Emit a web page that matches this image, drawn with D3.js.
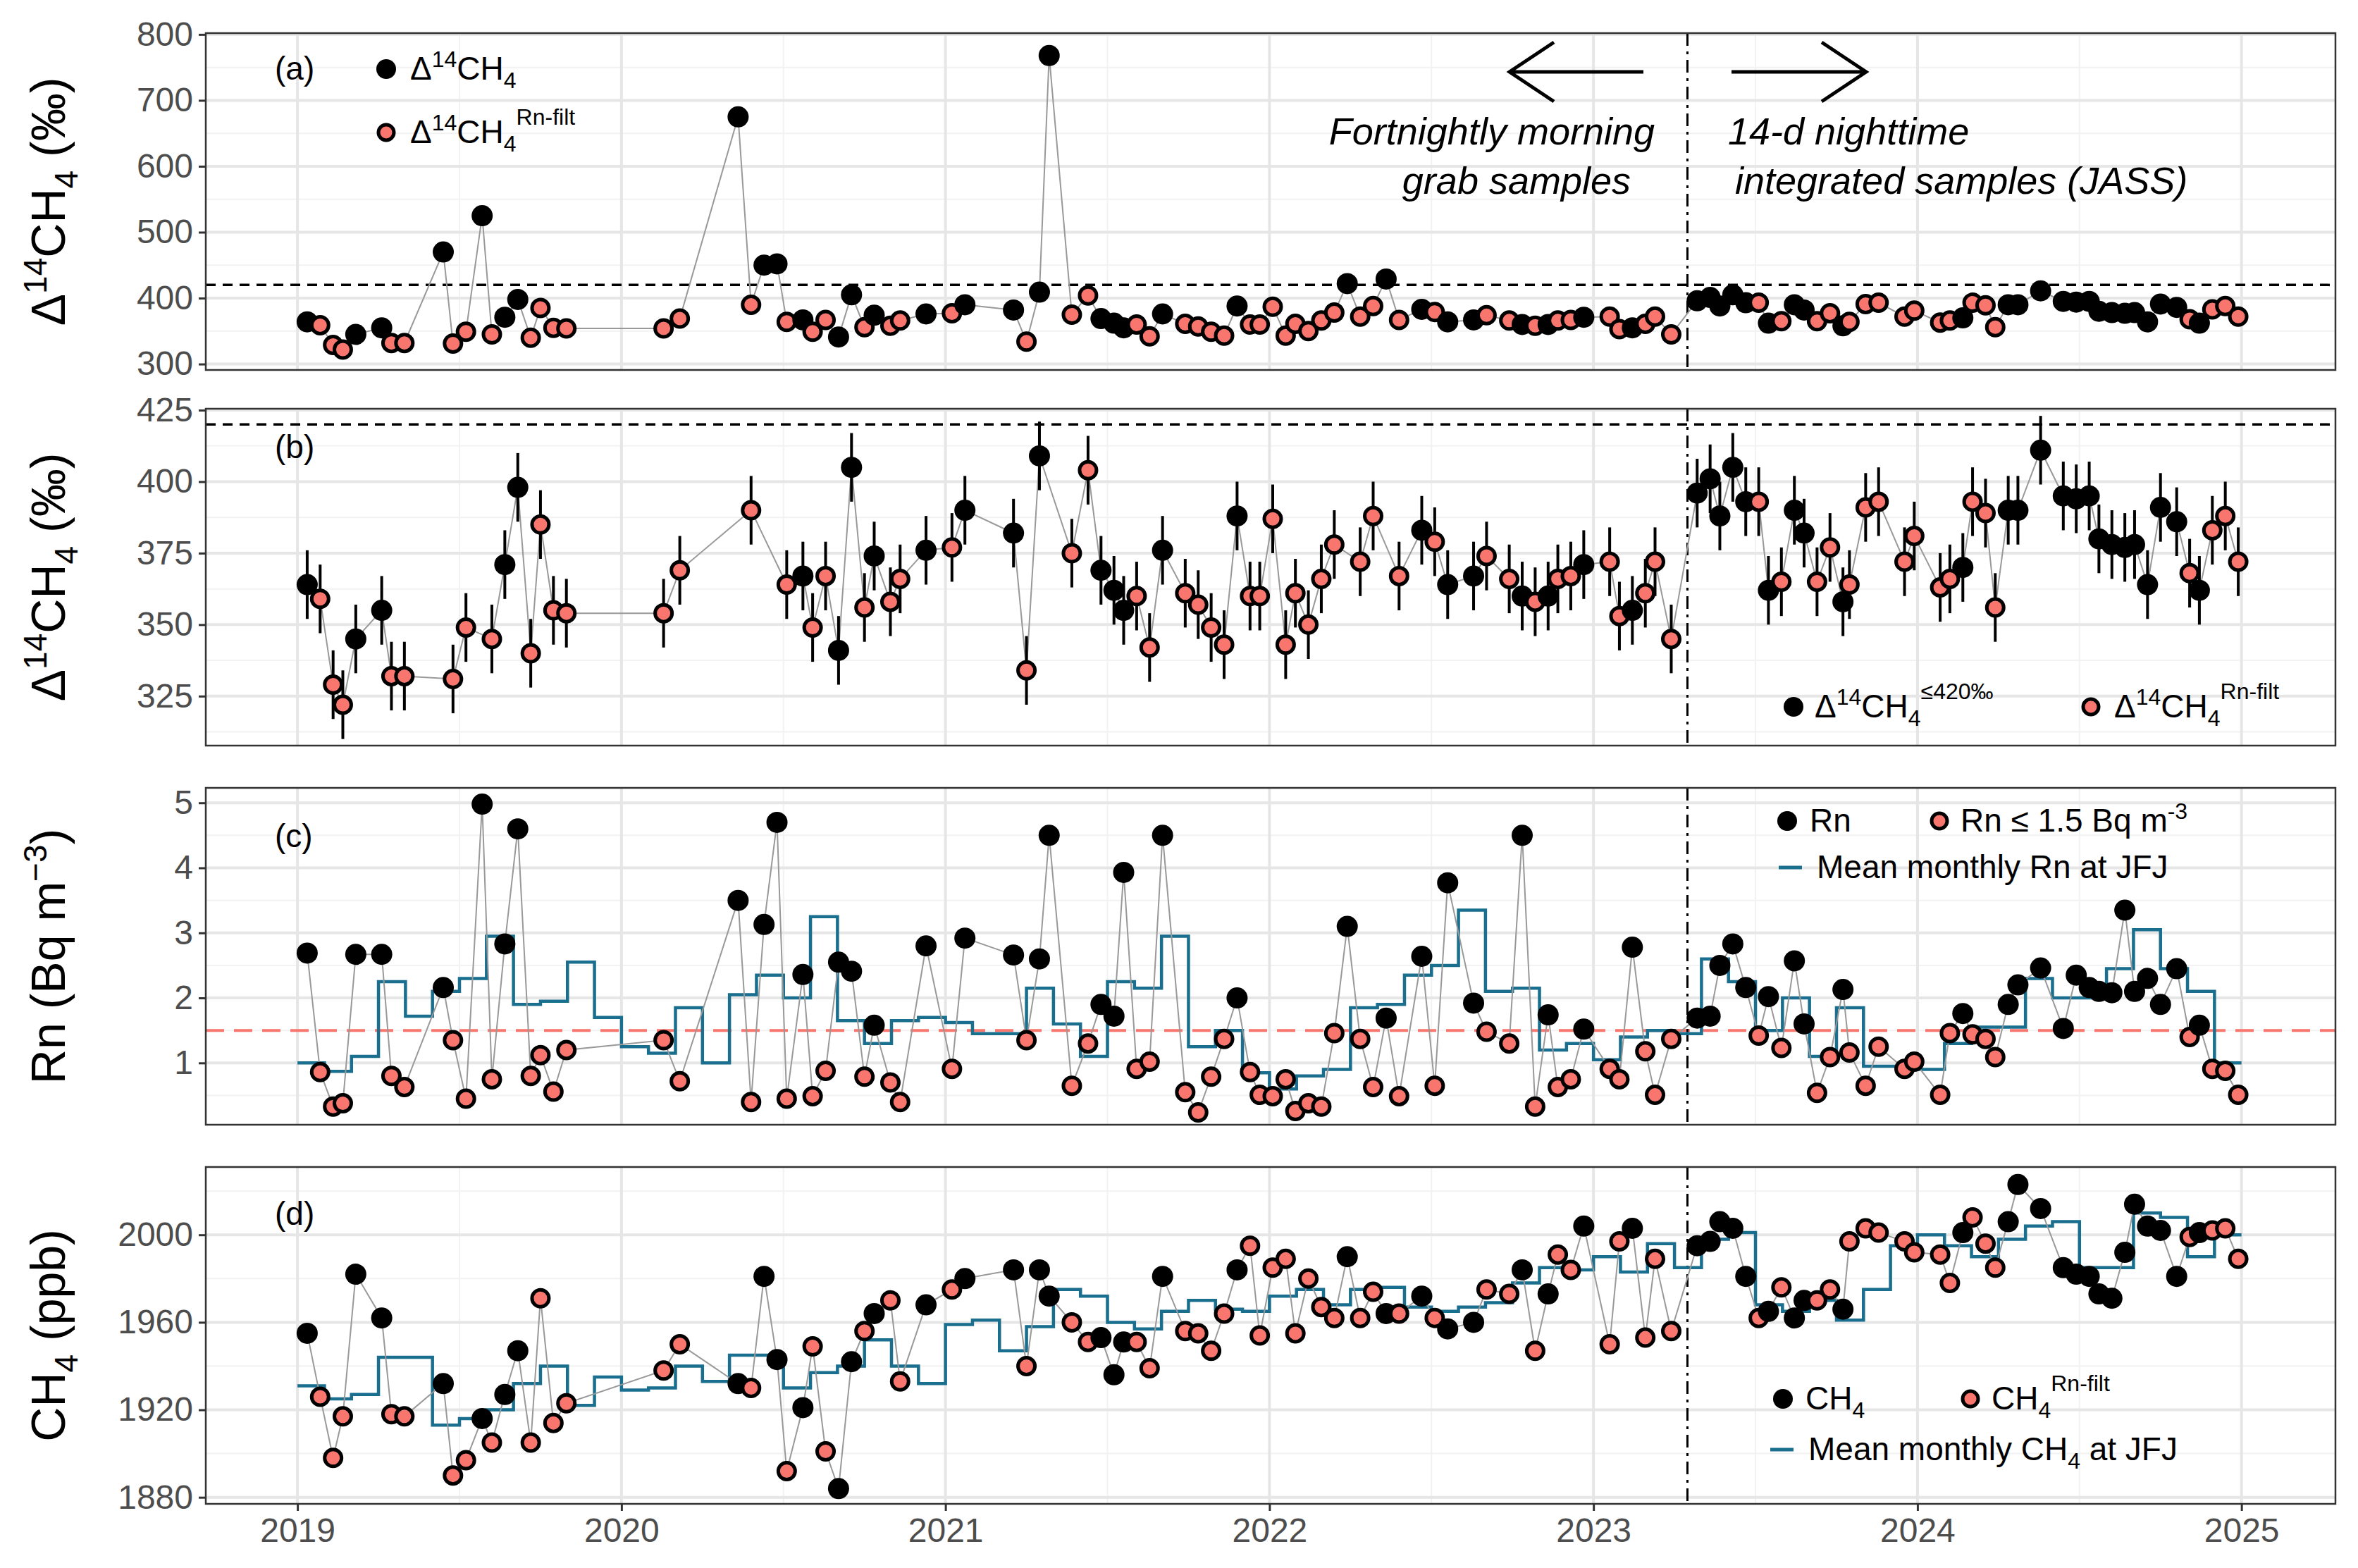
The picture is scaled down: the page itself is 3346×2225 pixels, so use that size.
<!DOCTYPE html>
<html><head><meta charset="utf-8">
<script src="https://cdn.jsdelivr.net/npm/d3@7"></script>
<style>body{margin:0;background:#fff}text{font-family:"Liberation Sans",Arial,sans-serif}</style>
</head><body>
<script>
// sample dates (decimal year)
var sampleDates = [
 2019.03,2019.07,2019.11,2019.14,2019.18,2019.26,2019.29,2019.33,2019.45,2019.48,
 2019.52,2019.57,2019.60,2019.64,2019.68,2019.72,2019.75,2019.79,2019.83,2020.13,
 2020.18,2020.36,2020.40,2020.44,2020.48,2020.51,2020.56,2020.59,2020.63,2020.67,
 2020.71,2020.75,2020.78,2020.83,2020.86,2020.94,2021.02,2021.06,2021.21,2021.25,
 2021.29,2021.32,2021.39,2021.44,2021.48,2021.52,2021.55,2021.59,2021.63,2021.67,
 2021.74,2021.78,2021.82,2021.86,2021.90,2021.94,2021.97,2022.01,2022.05,2022.08,
 2022.12,2022.16,2022.20,2022.24,2022.28,2022.32,2022.36,2022.40,2022.47,2022.51,
 2022.55,2022.63,2022.67,2022.74,2022.78,2022.82,2022.86,2022.89,2022.93,2022.97,
 2023.05,2023.08,2023.12,2023.16,2023.19,2023.24,2023.32,2023.36,2023.39,2023.43,
 2023.47,2023.51,2023.54,2023.58,2023.62,2023.65,2023.69,2023.73,2023.77,2023.79,
 2023.84,2023.88,2023.96,2023.99,2024.07,2024.10,2024.14,2024.17,2024.21,2024.24,
 2024.28,2024.31,2024.38,2024.45,2024.49,2024.53,2024.56,2024.60,2024.64,2024.67,
 2024.71,2024.75,2024.80,2024.84,2024.87,2024.91,2024.95,2024.99];
// Δ14CH4 (‰)
var d14c = [
 364,359,329,322,345,355,332,332,470,331,
 349,525,345,371,398,340,385,355,354,354,
 369,675,390,450,452,364,367,349,367,341,
 405,356,374,358,366,376,377,390,382,334,
 409,768,375,404,369,362,355,360,342,376,
 361,357,349,343,388,360,360,387,343,361,
 350,366,378,422,372,388,429,367,383,379,
 364,367,374,366,360,358,360,366,367,371,
 372,353,355,361,372,345,396,401,388,405,
 393,393,362,365,390,382,365,377,358,364,
 391,393,372,381,363,366,370,393,389,356,
 390,390,411,395,394,395,380,378,377,378,
 364,391,386,368,362,383,388,372];
var d14cErr = 12;
// Rn (Bq m-3)
var rn = [
 2.69,0.86,0.33,0.38,2.67,2.67,0.80,0.63,2.16,1.35,
 0.45,4.98,0.75,2.83,4.60,0.80,1.12,0.56,1.20,1.35,
 0.72,3.50,0.40,3.13,4.70,0.45,2.36,0.49,0.88,2.55,
 2.41,0.79,1.58,0.70,0.40,2.80,0.91,2.92,2.66,1.35,
 2.60,4.50,0.65,1.30,1.90,1.72,3.93,0.91,1.02,4.50,
 0.55,0.24,0.79,1.37,2.00,0.86,0.51,0.49,0.75,0.26,
 0.38,0.33,1.46,3.10,1.37,0.63,1.69,0.49,2.64,0.65,
 3.77,1.92,1.48,1.30,4.50,0.33,1.74,0.63,0.75,1.52,
 0.91,0.75,2.78,1.18,0.51,1.37,1.69,1.72,2.50,2.83,
 2.16,1.42,2.02,1.23,2.57,1.60,0.54,1.09,2.13,1.16,
 0.65,1.25,0.91,1.02,0.51,1.46,1.76,1.44,1.37,1.09,
 1.90,2.20,2.46,1.53,2.35,2.16,2.10,2.08,3.35,2.10,
 2.30,1.90,2.45,1.40,1.58,0.91,0.88,0.51];
// CH4 (ppb)
var ch4 = [
 1955,1926,1898,1917,1982,1962,1918,1917,1932,1890,
 1897,1916,1905,1927,1947,1905,1971,1914,1923,1938,
 1950,1932,1930,1981,1943,1892,1921,1949,1901,1884,
 1942,1956,1964,1970,1933,1968,1975,1980,1984,1940,
 1984,1972,1960,1951,1953,1936,1951,1951,1939,1981,
 1956,1955,1947,1964,1984,1995,1954,1985,1989,1955,
 1980,1967,1962,1990,1962,1974,1964,1964,1972,1962,
 1957,1960,1975,1973,1984,1947,1973,1991,1984,2004,
 1950,1997,2003,1953,1989,1956,1995,1997,2006,2003,
 1981,1962,1965,1976,1962,1970,1970,1975,1966,1997,
 2003,2001,1997,1992,1991,1978,2001,2008,1996,1985,
 2006,2023,2012,1985,1982,1981,1973,1971,1992,2014,
 2004,2002,1981,1999,2001,2002,2003,1989];
// monthly means at JFJ, Jan 2019 .. Dec 2024
var rnMonthly = [
 1.0,0.87,1.1,2.25,1.72,2.1,2.3,2.95,1.9,1.95,2.55,1.7,
 1.25,1.15,1.85,1.0,2.05,2.35,2.0,3.25,1.65,1.3,1.65,1.7,
 1.62,1.45,1.45,2.15,1.6,1.1,2.25,2.15,2.95,1.25,1.5,0.85,
 0.6,0.8,0.9,1.85,1.9,2.35,2.5,3.35,2.1,2.15,1.2,1.3,
 1.05,1.4,1.5,1.45,2.6,2.25,1.5,2.0,1.1,1.85,0.95,0.95,
 0.9,1.3,1.55,1.55,2.3,2.0,2.0,2.45,3.05,2.45,2.1,1.0];
var ch4Monthly = [
 1931,1925,1927,1944,1944,1913,1916,1920,1932,1940,1922,1935,
 1929,1930,1940,1933,1945,1945,1930,1937,1940,1952,1940,1932,
 1959,1961,1947,1958,1975,1972,1960,1957,1965,1970,1966,1965,
 1972,1975,1968,1975,1976,1967,1965,1967,1969,1978,1985,1984,
 1990,1983,1996,1985,1998,2001,1968,1965,1970,1961,1975,1995,
 2000,1995,1990,1998,2004,2006,1985,1985,2010,2008,1990,2000];
var xTicks = [2019,2020,2021,2022,2023,2024,2025];
var rnLimit = 1.5, d14cLimit = 420, switchDate = 2023.29;

const W = 3346, H = 2225;
const left = 292, right = 3314;
const panels = {
  a: {top: 47, bottom: 525, domain: [291, 802], ticks: [300,400,500,600,700,800]},
  b: {top: 580, bottom: 1058, domain: [307.7, 425.5], ticks: [325,350,375,400,425]},
  c: {top: 1118, bottom: 1596, domain: [0.05, 5.23], ticks: [1,2,3,4,5]},
  d: {top: 1656, bottom: 2134, domain: [1877, 2031], ticks: [1880,1920,1960,2000]}
};
const BLACK = "#000", SALMON = "#f8766d", BLUE = "#1a6e8e";
const FONT = '"Liberation Sans",Arial,sans-serif';

var svg = d3.select("body").append("svg").attr("width", W).attr("height", H);
var x = d3.scaleLinear().domain([2018.717, 2025.29]).range([left, right]);

var samples = sampleDates.map((t, i) => ({t: t, d: d14c[i], rn: rn[i], ch4: ch4[i], filt: rn[i] <= rnLimit}));

function setupPanel(p) {
  var y = d3.scaleLinear().domain(p.domain).range([p.bottom, p.top]);
  var g = svg.append("g");
  var step = p.ticks[1] - p.ticks[0];
  var minor = p.ticks.map(v => v - step / 2).concat([p.ticks[p.ticks.length-1] + step/2]).filter(v => v > p.domain[0] && v < p.domain[1]);
  g.selectAll(".ymin").data(minor).join("line").attr("x1", left).attr("x2", right)
    .attr("y1", d => y(d)).attr("y2", d => y(d)).attr("stroke", "#f2f2f2").attr("stroke-width", 2);
  var xminor = xTicks.map(v => v - 0.5).concat([2025.5]).filter(v => v > x.domain()[0] && v < x.domain()[1]);
  g.selectAll(".xmin").data(xminor).join("line").attr("y1", p.top).attr("y2", p.bottom)
    .attr("x1", d => x(d)).attr("x2", d => x(d)).attr("stroke", "#f2f2f2").attr("stroke-width", 2);
  g.selectAll(".ymaj").data(p.ticks).join("line").attr("x1", left).attr("x2", right)
    .attr("y1", d => y(d)).attr("y2", d => y(d)).attr("stroke", "#e6e6e6").attr("stroke-width", 4);
  g.selectAll(".xmaj").data(xTicks).join("line").attr("y1", p.top).attr("y2", p.bottom)
    .attr("x1", d => x(d)).attr("x2", d => x(d)).attr("stroke", "#e6e6e6").attr("stroke-width", 4);
  var ax = svg.append("g").attr("transform", "translate(" + left + ",0)")
    .call(d3.axisLeft(y).tickValues(p.ticks).tickFormat(d3.format("d")).tickSize(10).tickPadding(8));
  ax.select(".domain").remove();
  ax.selectAll("line").attr("stroke", "#333").attr("stroke-width", 3);
  ax.selectAll("text").attr("font-size", 48).attr("fill", "#4d4d4d").attr("font-family", FONT);
  p.y = y;
  return y;
}

function border(p) {
  svg.append("rect").attr("x", left).attr("y", p.top).attr("width", right - left)
    .attr("height", p.bottom - p.top).attr("fill", "none").attr("stroke", "#333").attr("stroke-width", 2.5);
}

function vline(p) {
  svg.append("line").attr("x1", x(switchDate)).attr("x2", x(switchDate)).attr("y1", p.top).attr("y2", p.bottom)
    .attr("stroke", "#000").attr("stroke-width", 3).attr("stroke-dasharray", "18,8,4,8");
}

function hline(p, v, col, dash, w) {
  svg.append("line").attr("x1", left).attr("x2", right).attr("y1", p.y(v)).attr("y2", p.y(v))
    .attr("stroke", col).attr("stroke-width", w).attr("stroke-dasharray", dash);
}

function connect(data, y, key) {
  svg.append("path").datum(data)
    .attr("d", d3.line().x(d => x(d.t)).y(d => y(d[key])))
    .attr("fill", "none").attr("stroke", "#999").attr("stroke-width", 2);
}

function dots(data, y, key) {
  var g = svg.append("g");
  g.selectAll("circle").data(data).join("circle")
    .attr("cx", d => x(d.t)).attr("cy", d => y(d[key]))
    .attr("r", d => d.filt ? 12 : 15)
    .attr("fill", d => d.filt ? SALMON : BLACK)
    .attr("stroke", "#000").attr("stroke-width", d => d.filt ? 5 : 0);
}

function stepLine(vals, y) {
  var pts = vals.map((v, i) => ({t: 2019 + i / 12, v: v}));
  pts.push({t: 2025, v: vals[vals.length - 1]});
  svg.append("path").datum(pts)
    .attr("d", d3.line().curve(d3.curveStepAfter).x(d => x(d.t)).y(d => y(d.v)))
    .attr("fill", "none").attr("stroke", BLUE).attr("stroke-width", 4.5);
}

function legendDot(cx, cy, filt) {
  svg.append("circle").attr("cx", cx).attr("cy", cy).attr("r", filt ? 11 : 14)
    .attr("fill", filt ? SALMON : BLACK).attr("stroke", "#000").attr("stroke-width", filt ? 5 : 0);
}

function label(xp, yp, html, size, anchor, style) {
  svg.append("text").attr("x", xp).attr("y", yp).attr("font-size", size || 46)
    .attr("text-anchor", anchor || "start").attr("font-style", style || "normal").html(html);
}

function arrow(x0, x1, yy) {
  var dir = x1 > x0 ? -1 : 1;
  svg.append("path")
    .attr("d", "M" + x0 + "," + yy + "L" + x1 + "," + yy +
      "M" + (x1 + dir * 63) + "," + (yy - 42) + "L" + x1 + "," + yy + "L" + (x1 + dir * 63) + "," + (yy + 42))
    .attr("fill", "none").attr("stroke", "#000").attr("stroke-width", 5);
}

// panel (a)
var pa = panels.a, ya = setupPanel(pa);
hline(pa, d14cLimit, "#000", "14,10", 3.5);
vline(pa);
connect(samples, ya, "d");
dots(samples, ya, "d");
border(pa);
label(390, 113, "(a)");
legendDot(548, 98, false);
label(582, 113, 'Δ<tspan dy="-18" font-size="32">14</tspan><tspan dy="18">CH</tspan><tspan dy="12" font-size="32">4</tspan>');
legendDot(548, 188, true);
label(582, 203, 'Δ<tspan dy="-18" font-size="32">14</tspan><tspan dy="18">CH</tspan><tspan dy="12" font-size="32">4</tspan><tspan dy="-38" font-size="32">Rn-filt</tspan>');
arrow(2332, 2142, 102);
arrow(2457, 2648, 102);
label(2348, 205, "Fortnightly morning", 54, "end", "italic");
label(2314, 275, "grab samples", 54, "end", "italic");
label(2452, 205, "14-d nighttime", 54, "start", "italic");
label(2462, 275, "integrated samples (JASS)", 54, "start", "italic");

// panel (b)
var pb = panels.b, yb = setupPanel(pb);
var bData = samples.filter(d => d.d <= d14cLimit);
hline(pb, d14cLimit, "#000", "14,10", 3.5);
vline(pb);
connect(bData, yb, "d");
svg.append("g").selectAll("line").data(bData).join("line")
  .attr("x1", d => x(d.t)).attr("x2", d => x(d.t))
  .attr("y1", d => yb(d.d - d14cErr)).attr("y2", d => yb(d.d + d14cErr))
  .attr("stroke", "#000").attr("stroke-width", 4);
dots(bData, yb, "d");
border(pb);
label(390, 650, "(b)");
legendDot(2545, 1003, false);
label(2575, 1018, 'Δ<tspan dy="-18" font-size="32">14</tspan><tspan dy="18">CH</tspan><tspan dy="12" font-size="32">4</tspan><tspan dy="-38" font-size="32">≤420‰</tspan>');
legendDot(2967, 1003, true);
label(3000, 1018, 'Δ<tspan dy="-18" font-size="32">14</tspan><tspan dy="18">CH</tspan><tspan dy="12" font-size="32">4</tspan><tspan dy="-38" font-size="32">Rn-filt</tspan>');

// panel (c)
var pc = panels.c, yc = setupPanel(pc);
hline(pc, rnLimit, SALMON, "26,14", 4);
vline(pc);
stepLine(rnMonthly, yc);
connect(samples, yc, "rn");
dots(samples, yc, "rn");
border(pc);
label(390, 1202, "(c)");
legendDot(2536, 1165, false);
label(2568, 1180, "Rn");
legendDot(2752, 1165, true);
label(2782, 1180, 'Rn ≤ 1.5 Bq m<tspan dy="-18" font-size="32">-3</tspan>');
svg.append("line").attr("x1", 2524).attr("x2", 2557).attr("y1", 1231).attr("y2", 1231).attr("stroke", BLUE).attr("stroke-width", 5);
label(2578, 1246, "Mean monthly Rn at JFJ");

// panel (d)
var pd = panels.d, yd = setupPanel(pd);
vline(pd);
stepLine(ch4Monthly, yd);
connect(samples, yd, "ch4");
dots(samples, yd, "ch4");
border(pd);
label(390, 1738, "(d)");
legendDot(2530, 1985, false);
label(2562, 2000, 'CH<tspan dy="12" font-size="32">4</tspan>');
legendDot(2796, 1985, true);
label(2826, 2000, 'CH<tspan dy="12" font-size="32">4</tspan><tspan dy="-38" font-size="32">Rn-filt</tspan>');
svg.append("line").attr("x1", 2512).attr("x2", 2545).attr("y1", 2057).attr("y2", 2057).attr("stroke", BLUE).attr("stroke-width", 5);
label(2566, 2072, 'Mean monthly CH<tspan dy="12" font-size="32">4</tspan><tspan dy="-12"> at JFJ</tspan>');

// x axis
var xa = svg.append("g").attr("transform", "translate(0," + pd.bottom + ")")
  .call(d3.axisBottom(x).tickValues(xTicks).tickFormat(d3.format("d")).tickSize(10).tickPadding(10));
xa.select(".domain").remove();
xa.selectAll("line").attr("stroke", "#333").attr("stroke-width", 3);
xa.selectAll("text").attr("font-size", 48).attr("fill", "#4d4d4d").attr("font-family", FONT);

// y titles
function ytitle(yc_, html) {
  svg.append("text").attr("transform", "translate(92," + yc_ + ") rotate(-90)")
    .attr("text-anchor", "middle").attr("font-size", 68).html(html);
}
ytitle((pa.top + pa.bottom) / 2, 'Δ<tspan dy="-26" font-size="46">14</tspan><tspan dy="26">CH</tspan><tspan dy="18" font-size="46">4</tspan><tspan dy="-18"> (‰)</tspan>');
ytitle((pb.top + pb.bottom) / 2, 'Δ<tspan dy="-26" font-size="46">14</tspan><tspan dy="26">CH</tspan><tspan dy="18" font-size="46">4</tspan><tspan dy="-18"> (‰)</tspan>');
ytitle((pc.top + pc.bottom) / 2, 'Rn (Bq m<tspan dy="-26" font-size="46">−3</tspan><tspan dy="26">)</tspan>');
ytitle((pd.top + pd.bottom) / 2, 'CH<tspan dy="18" font-size="46">4</tspan><tspan dy="-18"> (ppb)</tspan>');
</script>
</body></html>
